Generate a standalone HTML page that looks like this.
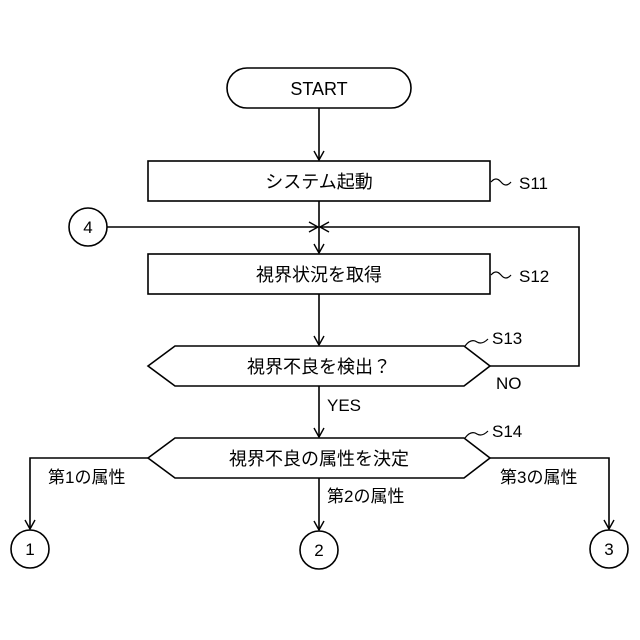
<!DOCTYPE html>
<html><head><meta charset="utf-8"><style>
html,body{margin:0;padding:0;background:#fff;}
svg{display:block;}
text{font-family:"Liberation Sans","Noto Sans CJK JP",sans-serif;fill:#000;}
</style></head><body>
<svg width="640" height="640" viewBox="0 0 640 640" xmlns="http://www.w3.org/2000/svg">
<defs><marker id="a" markerWidth="12" markerHeight="12" refX="10" refY="6" orient="auto" markerUnits="userSpaceOnUse"><path d="M1,1 L10,6 L1,11" fill="none" stroke="#000" stroke-width="1.4"/></marker></defs>
<g fill="none" stroke="#000" stroke-width="1.6">
<rect x="227" y="68" width="184" height="40" rx="20"/>
<rect x="148" y="161" width="342" height="40"/>
<rect x="148" y="254" width="342" height="40"/>
<polygon points="148,366 175,346 464,346 490,366 464,386 175,386"/>
<polygon points="148,458 175,438 464,438 490,458 464,478 175,478"/>
<circle cx="88" cy="227" r="19"/>
<circle cx="30" cy="549" r="19"/>
<circle cx="319" cy="550" r="19"/>
<circle cx="609" cy="549" r="19"/>
<line x1="319" y1="108" x2="319" y2="160" marker-end="url(#a)"/>
<line x1="319" y1="201" x2="319" y2="253" marker-end="url(#a)"/>
<line x1="107" y1="227" x2="318" y2="227" marker-end="url(#a)"/>
<polyline points="490,366 579,366 579,227 320,227" marker-end="url(#a)"/>
<line x1="319" y1="294" x2="319" y2="345" marker-end="url(#a)"/>
<line x1="319" y1="386" x2="319" y2="437" marker-end="url(#a)"/>
<polyline points="148,458 30,458 30,529" marker-end="url(#a)"/>
<polyline points="490,458 609,458 609,529" marker-end="url(#a)"/>
<line x1="319" y1="478" x2="319" y2="530" marker-end="url(#a)"/>
<path d="M491,182 q5,-6 10,0 q5,6 10,0" stroke-width="1.2"/>
<path d="M491,275 q5,-6 10,0 q5,6 10,0" stroke-width="1.2"/>
<path d="M465,346 q6,-8 12,-4 q5,3 11,-3" stroke-width="1.2"/>
<path d="M465,438 q6,-8 12,-4 q5,3 11,-3" stroke-width="1.2"/>
</g>
<g font-size="18" text-anchor="middle">
<text x="319" y="95">START</text>
<text x="319" y="188">システム起動</text>
<text x="319" y="281">視界状況を取得</text>
<text x="319" y="373">視界不良を検出？</text>
<text x="319" y="465">視界不良の属性を決定</text>
<text x="88" y="233" font-size="17">4</text>
<text x="30" y="555" font-size="17">1</text>
<text x="319" y="556" font-size="17">2</text>
<text x="609" y="555" font-size="17">3</text>
</g>
<g font-size="17">
<text x="519" y="189">S11</text>
<text x="519" y="282">S12</text>
<text x="492" y="344">S13</text>
<text x="492" y="437">S14</text>
<text x="496" y="389">NO</text>
<text x="327" y="411">YES</text>
<text x="48" y="483">第1の属性</text>
<text x="327" y="502">第2の属性</text>
<text x="500" y="483">第3の属性</text>
</g>
</svg>
</body></html>
